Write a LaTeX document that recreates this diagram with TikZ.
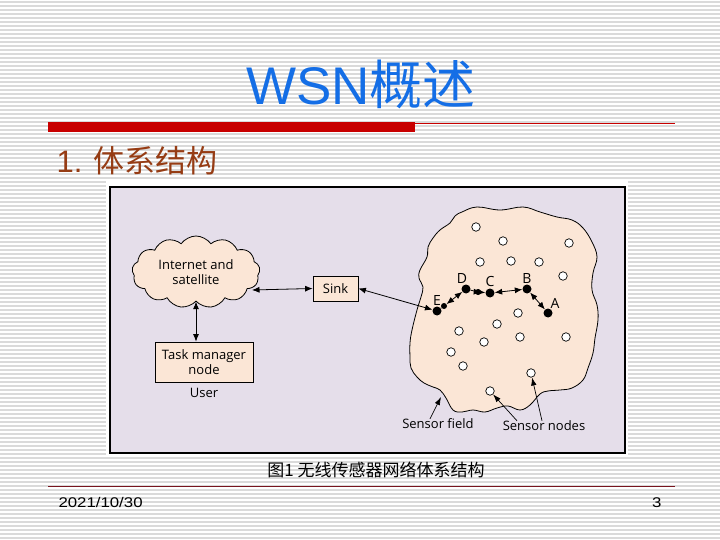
\documentclass[tikz,border=0pt]{standalone}
\usepackage{fontspec}
\setmainfont{Liberation Sans}
\newfontfamily\cjk{Noto Sans CJK SC}
\newfontfamily\diag{Open Sans}
\newfontfamily\footfont[FakeStretch=1.2]{Liberation Sans}
\usetikzlibrary{arrows.meta,shapes.symbols}
\definecolor{stripegray}{RGB}{218,218,218}
\definecolor{titleblue}{RGB}{20,110,230}
\definecolor{headbrown}{RGB}{150,60,20}
\definecolor{barred}{RGB}{200,0,0}
\definecolor{footred}{RGB}{120,20,30}
\definecolor{lilac}{RGB}{229,222,234}
\definecolor{peach}{RGB}{251,230,214}
\tikzset{
  stripe/.style={stripegray,line width=1.3pt},
  box/.style={draw,fill=peach,line width=0.8pt,font=\diag\fontsize{13}{14.5}\selectfont,align=center,inner sep=0pt},
  txt/.style={font=\diag\fontsize{13}{14.5}\selectfont,inner sep=0pt},
  lbl/.style={font=\diag\fontsize{14}{16}\selectfont,inner sep=1pt},
  dot/.style={circle,fill=black,inner sep=0pt,minimum size=9pt},
  smalldot/.style={circle,fill=black,inner sep=0pt,minimum size=6pt},
  sensor/.style={circle,draw,fill=white,inner sep=0pt,minimum size=8.5pt,line width=0.7pt},
  dbl/.style={{Latex[length=7.5pt,width=6pt]}-{Latex[length=7.5pt,width=6pt]},line width=0.8pt},
  ptr/.style={-{Latex[length=8pt,width=5.5pt]},line width=0.7pt}
}
\begin{document}
\begin{tikzpicture}[x=1pt,y=-1pt]
  \useasboundingbox (0,0) rectangle (720,540);
  \fill[white] (0,0) rectangle (720,540);
  \foreach \y in {2,6,...,538}
    \draw[stripe] (0,\y) -- (720,\y);

  % title and header bar
  \node[anchor=base,text=titleblue,font=\fontsize{53}{60}\selectfont] (title) at (361,105) {WSN{\cjk 概述}};
  \fill[barred] (48,122) rectangle (415,132);
  \draw[barred,line width=0.8pt] (415,123) -- (675,123);
  \node[anchor=base west,text=headbrown,font=\fontsize{31}{36}\selectfont] (head) at (53,173) {1. {\cjk 体系结构}};

  % figure frame
  \fill[white] (106,181) rectangle (628,457);
  \draw[fill=lilac,line width=1.2pt] (110,187) rectangle (625,453);

  \node[box,cloud,cloud puffs=13,cloud puff arc=110,aspect=1.8,minimum width=128pt,minimum height=72pt] (inet) at (196,272) {Internet and\\satellite};
  \node[box,minimum width=98pt,minimum height=40pt] (task) at (204,362) {Task manager\\node};
  \node[txt,below=6pt] (user) at (task.south) {User};
  \node[box,minimum width=45pt,minimum height=25pt] (sink) at (335.5,288.5) {Sink};
  \coordinate (inetR) at (252,290);
  \draw[dbl] (inetR) -- (sink.west);
  \draw[dbl] (inet.south) -- (inet.south |- task.north);

  % sensor field
  \draw[fill=peach,line width=0.8pt] plot[smooth cycle,tension=0.65] coordinates {
    (462,212) (477,207) (500,210) (523,207) (540,212) (557,217) (572,220) (583,228)
    (592,242) (597,257) (593,273) (592,290) (597,305) (598,320) (595,338) (593,353)
    (588,368) (583,380) (572,388) (560,390) (548,391) (540,394) (530,405) (520,410)
    (508,406) (497,408) (485,412) (473,410) (462,412) (453,410) (446,398) (440,390)
    (433,387) (424,383) (417,377) (411,368) (410,357) (410,343) (412,330) (417,310)
    (421,297) (423,287) (419,278) (420,270) (427,257) (428,247) (433,238) (440,230)
    (450,223) (455,216)};

  \foreach \n/\x/\y in {s1/476/227,s2/503/241,s3/569/243,s4/480/262,s5/511/261,s6/539/262,
    s7/563/276,s8/518/313,s9/497/324,s10/459/331,s11/520/337,s12/484/342,s13/566/337,
    s14/451/352,s15/463/366,s16/531/373,s17/490/391}
    \node[sensor] (\n) at (\x,\y) {};

  \node[dot,label={[lbl]above:E}] (E) at (437,311) {};
  \node[smalldot] (e1) at (444,306) {};
  \node[dot,label={[lbl,xshift=-4pt]above:D}] (D) at (466,289) {};
  \node[smalldot] (d1) at (478,292) {};
  \node[dot,label={[lbl]above:C}] (C) at (490,293) {};
  \node[dot,label={[lbl]above:B}] (B) at (527,289) {};
  \node[dot,label={[lbl,xshift=-2pt]above right:A}] (A) at (548,313) {};

  \draw[dbl] (sink.east) -- (E);
  \draw[line width=0.8pt] (E) -- (e1);
  \draw[dbl] (e1) -- (D);
  \draw[dbl] (D) -- (d1) -- (C);
  \draw[dbl] (C) -- (B);
  \draw[dbl] (B) -- (A);

  \node[txt] (field) at (438,424) {Sensor field};
  \node[txt] (nodes) at (544,426) {Sensor nodes};
  \coordinate (edge) at (441,397);
  \draw[ptr] ([xshift=-8pt]field.north) -- (edge);
  \draw[ptr] ([xshift=-27pt]nodes.north) -- (s17);
  \draw[ptr] ([xshift=-2pt]nodes.north) -- (s16);

  % caption and footer
  \node[anchor=base,font=\cjk\fontsize{17}{20}\selectfont] (cap) at (376,476) {图1 无线传感器网络体系结构};
  \draw[footred,line width=0.8pt] (48,486) -- (675,486);
  \node[anchor=base west,font=\footfont\fontsize{14}{16}\selectfont] (date) at (55,507) {2021/10/30};
  \node[anchor=base east,font=\footfont\fontsize{14}{16}\selectfont] (page) at (665,507) {3};
\end{tikzpicture}
\end{document}
